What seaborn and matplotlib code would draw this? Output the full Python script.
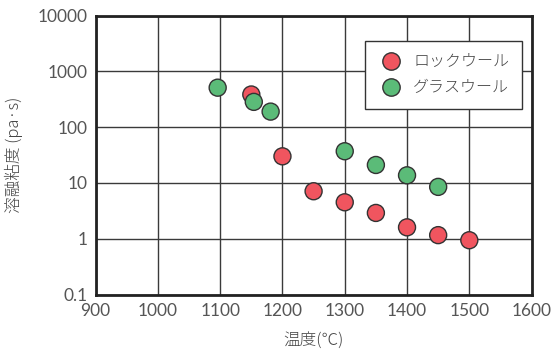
import matplotlib
matplotlib.use("Agg")
import matplotlib.pyplot as plt
import seaborn as sns
import pandas as pd

# Melt viscosity of rock wool and glass wool vs. temperature
rock_temp = [1150, 1200, 1250, 1300, 1350, 1400, 1450, 1500]
rock_visc = [385, 30, 7.1, 4.5, 2.9, 1.6, 1.16, 0.94]
glass_temp = [1096, 1154, 1181, 1300, 1350, 1400, 1450]
glass_visc = [510, 284, 190, 37, 21, 13.7, 8.5]
series_names = ["ロックウール", "グラスウール"]
colors = ["#f0555f", "#5bbb78"]
x_ticks = [900, 1000, 1100, 1200, 1300, 1400, 1500, 1600]
y_ticks = [0.1, 1, 10, 100, 1000, 10000]
y_tick_labels = ["0.1", "1", "10", "100", "1000", "10000"]

df = pd.concat([
    pd.DataFrame({"temp": rock_temp, "visc": rock_visc, "kind": series_names[0]}),
    pd.DataFrame({"temp": glass_temp, "visc": glass_visc, "kind": series_names[1]}),
])

sns.set_style("white")
plt.rcParams["font.family"] = ["Noto Sans CJK JP", "DejaVu Sans"]
num_font = ["Lato", "DejaVu Sans"]

fig = plt.figure(figsize=(5.59, 3.54), dpi=100)
ax = fig.add_axes([0.171, 0.168, 0.780, 0.788])

ax.set_yscale("log")
ax.set_xlim(900, 1600)
ax.set_ylim(0.1, 10000)
ax.set_xticks(x_ticks)
ax.set_yticks(y_ticks)
ax.set_yticklabels(y_tick_labels)
ax.minorticks_off()
ax.grid(True, which="major", color="#3a3a3a", linewidth=1.0)
ax.set_axisbelow(True)

sns.scatterplot(data=df, x="temp", y="visc", hue="kind", hue_order=series_names,
                palette=colors, s=150, edgecolor="#333333", linewidth=1.0,
                ax=ax, zorder=3)

for sp in ax.spines.values():
    sp.set_color("#222222")
    sp.set_linewidth(2.0)

ax.tick_params(axis="both", length=0, pad=6, labelcolor="#555555")
for lab in ax.get_xticklabels() + ax.get_yticklabels():
    lab.set_family(num_font)
    lab.set_fontweight("normal")
    lab.set_fontsize(12.5)

ax.set_xlabel("温度(℃)", fontsize=12, color="#444444", labelpad=9,
              fontweight="light")
ax.set_ylabel("溶融粘度 (pa·s)", fontsize=12, color="#444444", labelpad=10,
              fontweight="light")

leg = ax.legend(loc="upper right", bbox_to_anchor=(0.978, 0.91), frameon=True,
                fancybox=False, edgecolor="#333333",
                borderpad=0.8, handletextpad=0.6, labelspacing=0.55,
                handlelength=1.6, borderaxespad=0.0, markerscale=1.0,
                prop={"family": ["Noto Sans CJK JP", "DejaVu Sans"],
                      "weight": "light", "size": 11.5})
leg.get_frame().set_linewidth(1.0)
leg.get_frame().set_alpha(1.0)
for h in leg.legend_handles:
    if hasattr(h, "set_markersize"):
        h.set_markersize(12.5)
        h.set_markeredgewidth(1.0)
    elif hasattr(h, "set_sizes"):
        h.set_sizes([155])
for t in leg.get_texts():
    t.set_color("#444444")

fig.savefig("out.png", dpi=100)
